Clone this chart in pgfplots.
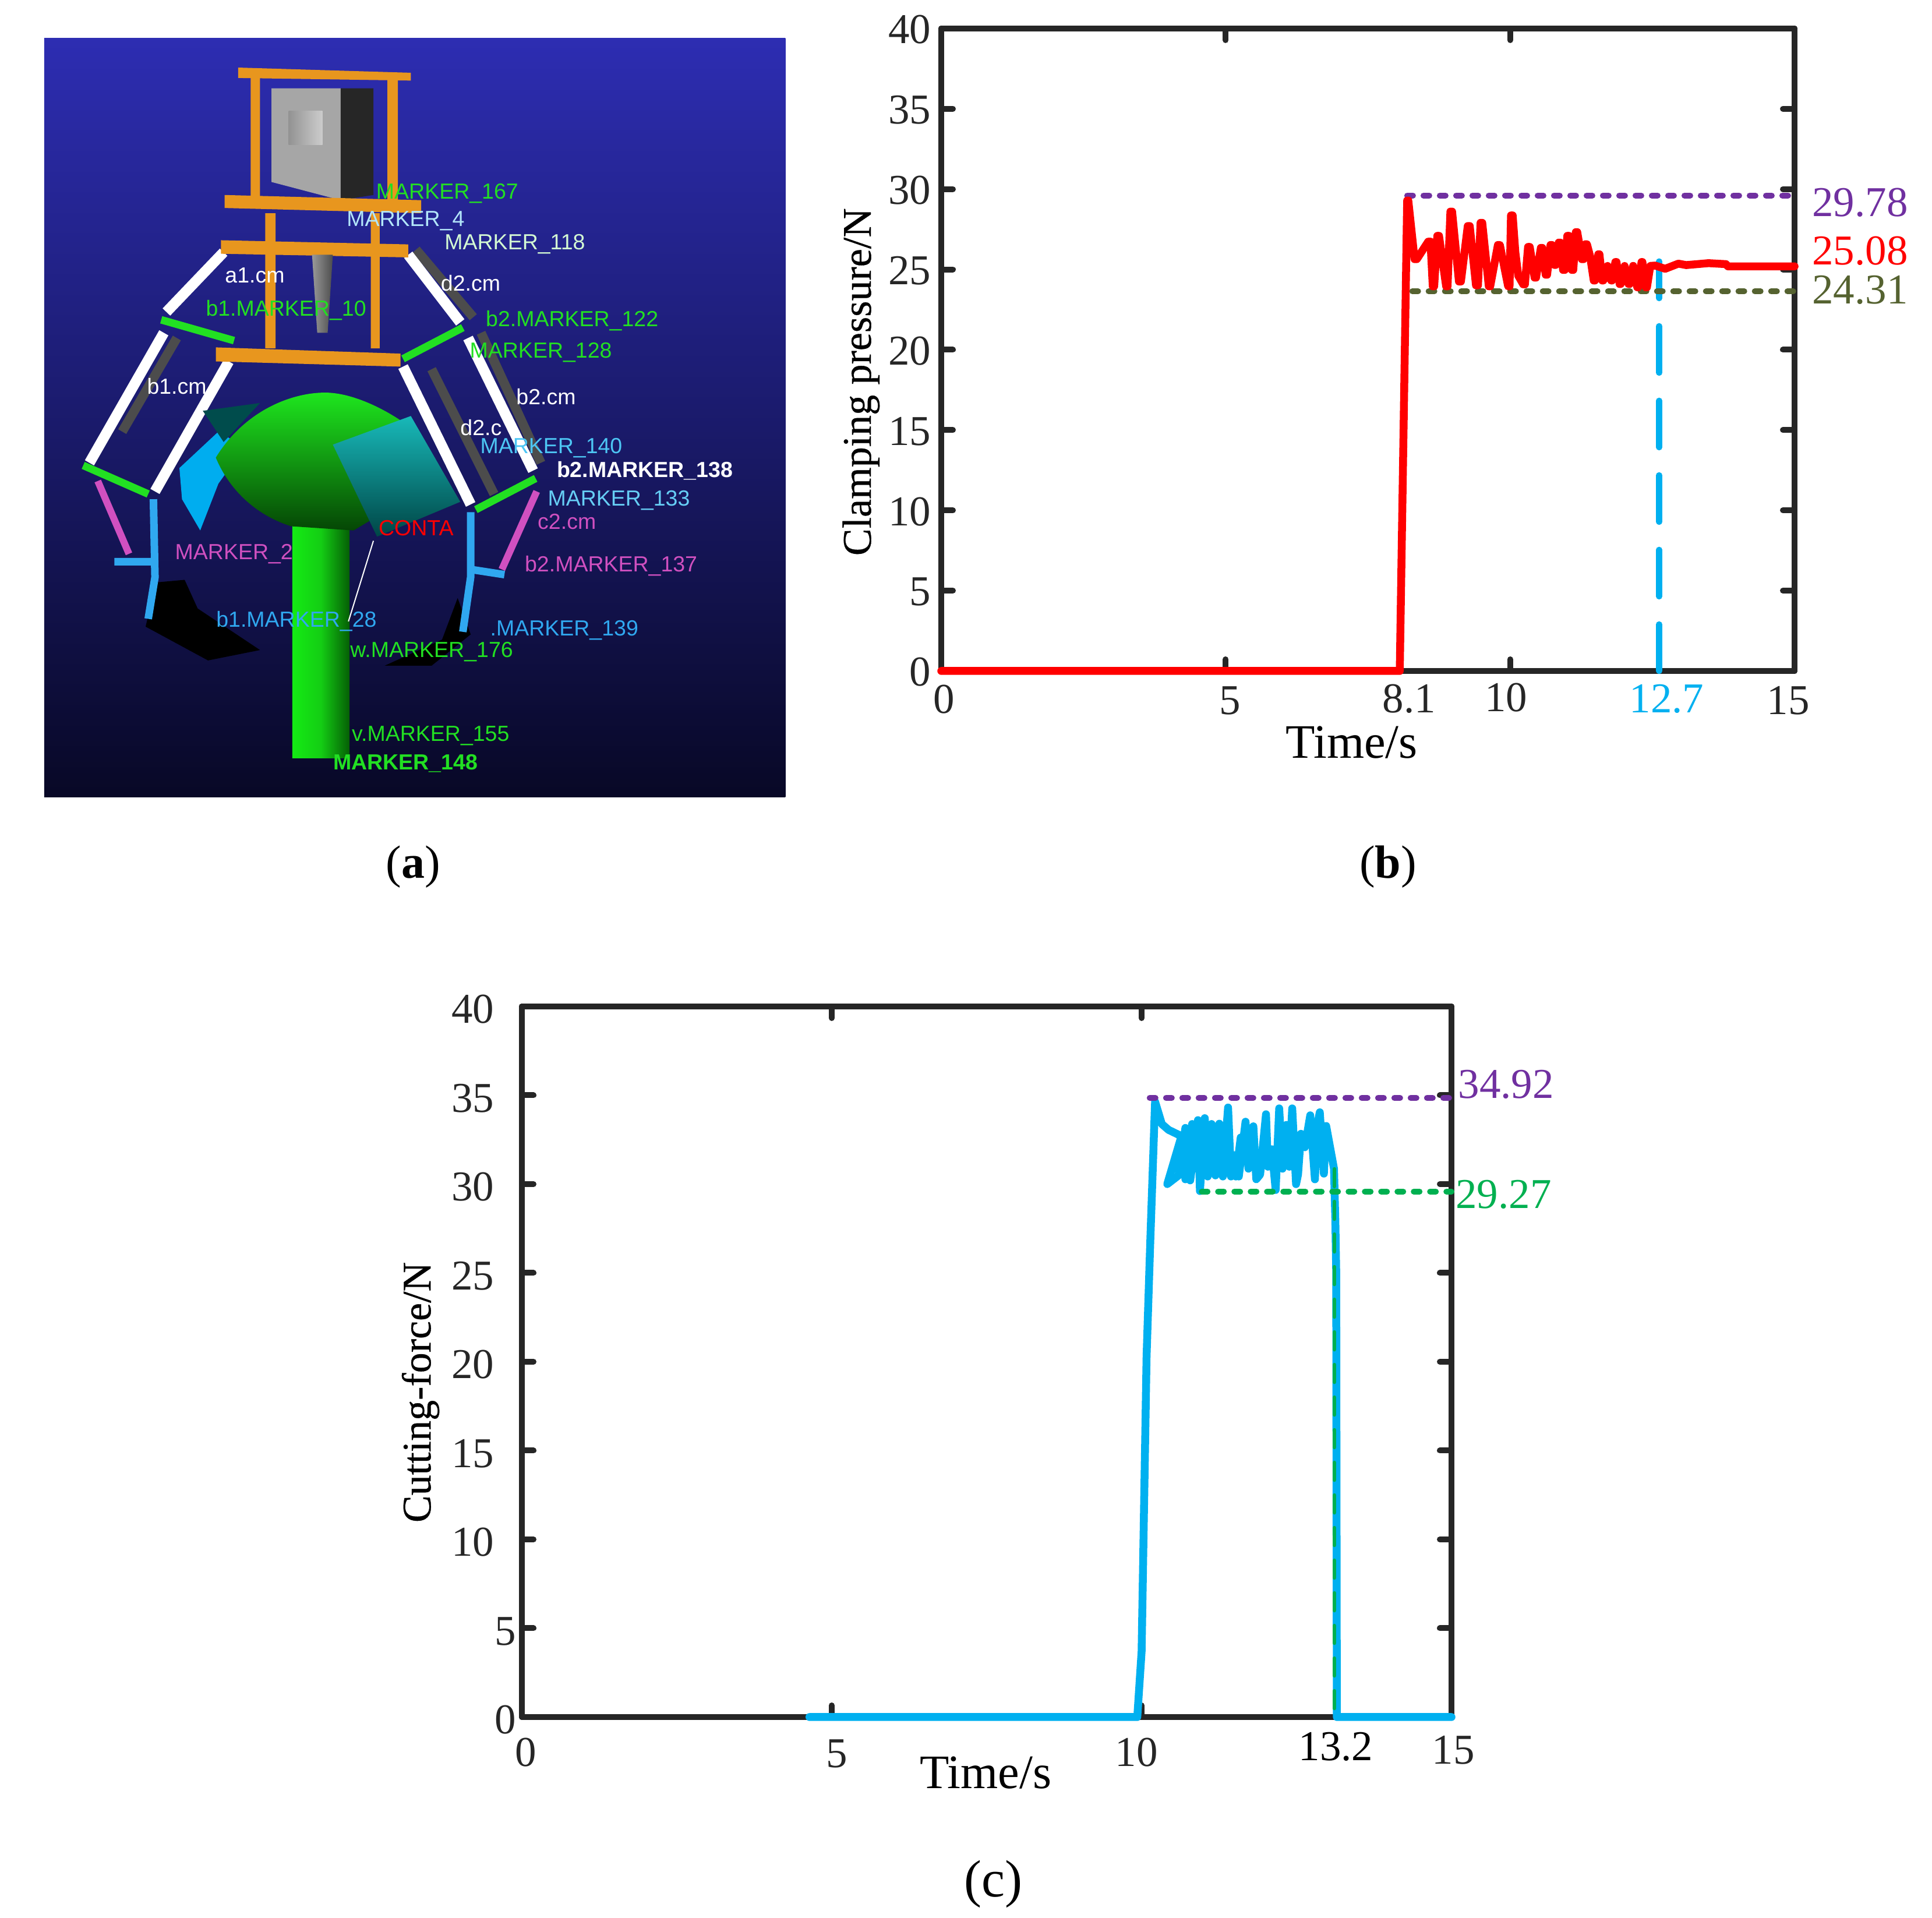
\documentclass[border=0pt]{standalone}
\usepackage{pgfplots}
\pgfplotsset{compat=1.18}
\usepackage{fontspec}
\setmainfont{Liberation Serif}
\setsansfont{Liberation Sans}
\newfontface\semib{Liberation Serif}[FakeBold=0.5]
\definecolor{axc}{HTML}{262626}
\definecolor{pur}{HTML}{7030A0}
\definecolor{oli}{HTML}{556230}
\definecolor{blu}{HTML}{00B0F0}
\definecolor{grn}{HTML}{00B050}
\definecolor{org}{HTML}{E8961E}
\definecolor{lim}{HTML}{22E022}
\definecolor{mag}{HTML}{D050C0}
\definecolor{fin}{HTML}{30A8F0}
\newcommand{\lab}[3]{\raisebox{#2}[10pt][0pt]{\hspace*{#1}#3\hspace*{-#1}}}
\newcommand{\mk}[4][]{\node[font=\sffamily\fontsize{7.5}{8}\selectfont,text=#2,#1] at #3 {#4};}
\pgfplotsset{
  panel/.style={
    scale only axis, anchor=north west, clip=false,
    xmin=0, xmax=15, ymin=0, ymax=40,
    ytick={0,5,...,40},
    tick align=inside, major tick length=4pt,
    tick style={line width=2pt, color=axc, line cap=round},
    axis line style={line width=2pt, color=axc, line join=round},
    /pgf/number format/assume math mode=true,
    tick label style={font=\fontsize{14.6}{16}\selectfont, text=axc},
    every axis plot/.append style={no markers},
    dotl/.style={line width=2pt, line cap=round, dash pattern=on 2pt off 3.6pt},
  },
}
\begin{document}
\begin{tikzpicture}
\path (0,0) rectangle (663.4pt,658pt);
% ---------- panel (a): schematic of the rendered model
\begin{scope}[shift={(0pt,658pt)},x=0.17857pt,y=-0.17857pt]
\shade[top color={rgb,255:red,45;green,45;blue,178},middle color={rgb,255:red,25;green,25;blue,110},bottom color={rgb,255:red,8;green,8;blue,38}] (85,73) rectangle (1510,1533);
% links, dark
\draw[line width=3.2pt,color=black!70] (800,480)--(910,610) (925,640)--(1040,890) (830,710)--(950,950) (340,650)--(235,830);
% links, white
\draw[line width=3.6pt,white] (430,485)--(320,600) (315,640)--(172,890) (440,695)--(298,945) (785,490)--(885,620) (900,650)--(1025,905) (775,705)--(905,970);
% rods and top
\fill[org] (482,150) rectangle (500,400) (745,150) rectangle (765,400) (510,410) rectangle (530,670) (713,410) rectangle (730,670);
\fill[org] (458,130)--(790,140)--(790,155)--(458,150)--cycle;
\fill[gray!70] (522,170)--(655,170)--(655,385)--(522,350)--cycle;
\fill[black!85] (655,170)--(718,170)--(718,375)--(655,385)--cycle;
\shade[left color=gray!85,right color=gray!40] (555,213) rectangle (620,278);
\fill[org] (432,375)--(810,385)--(810,410)--(432,400)--cycle;
\fill[org] (425,462)--(785,470)--(785,495)--(425,488)--cycle;
\shade[left color=gray!80,right color=black!70] (600,490)--(640,490)--(630,640)--(610,640)--cycle;
\fill[org] (415,668)--(770,680)--(770,705)--(415,695)--cycle;
% green links
\draw[line width=2.6pt,lim] (310,615)--(450,655) (890,630)--(775,690) (160,895)--(285,950) (1030,920)--(915,980);
% magenta
\draw[line width=2.4pt,mag] (188,925)--(248,1065) (1032,945)--(965,1095);
% blades
\fill[black] (300,1120)--(355,1115)--(380,1170)--(500,1250)--(400,1270)--(280,1205)--cycle;
\fill[black] (880,1150)--(905,1220)--(830,1280)--(740,1280)--(850,1230)--cycle;
% fingers
\draw[line width=2.6pt,fin] (295,960)--(298,1110)--(285,1190) (220,1080)--(300,1080) (905,985)--(905,1110)--(890,1215) (905,1095)--(970,1105);
% left jaw
\fill[cyan] (345,900)--(420,830)--(470,860)--(420,930)--(385,1020)--(350,960)--cycle;
\fill[teal!60!black] (390,790)--(500,775)--(430,850)--cycle;
% stem and head
\shade[left color={rgb,255:red,20;green,235;blue,20},right color={rgb,255:red,5;green,95;blue,5},middle color={rgb,255:red,20;green,205;blue,20}] (562,1000) rectangle (672,1458);
\shade[top color={rgb,255:red,30;green,230;blue,30},middle color={rgb,255:red,25;green,190;blue,25},bottom color={rgb,255:red,5;green,70;blue,5}] (415,880) .. controls (470,790) and (560,755) .. (625,755) .. controls (680,755) and (750,790) .. (800,830) -- (780,960) -- (680,1020) -- (560,1012) .. controls (490,990) and (440,940) .. (415,880) -- cycle;
% right jaw
\shade[top color={rgb,255:red,24;green,185;blue,185},bottom color={rgb,255:red,0;green,70;blue,70}] (640,855)--(790,800)--(885,965)--(725,1032)--cycle;
\draw[white,line width=0.4pt] (718,1040)--(670,1195);
% marker names
\mk{white}{(490,530)}{a1.cm}
\mk{white}{(905,545)}{d2.cm}
\mk{white}{(340,743)}{b1.cm}
\mk{white}{(1050,763)}{b2.cm}
\mk{white}{(925,822)}{d2.c}
\mk{lim}{(860,372)}{MARKER\_167}
\mk{cyan!30}{(780,425)}{MARKER\_4}
\mk{white!80!lim}{(990,470)}{MARKER\_118}
\mk{lim}{(550,597)}{b1.MARKER\_10}
\mk{lim}{(1100,617)}{b2.MARKER\_122}
\mk{lim}{(1040,678)}{MARKER\_128}
\mk{cyan!70}{(1060,862)}{MARKER\_140}
\mk[font=\sffamily\bfseries\fontsize{7.5}{8}\selectfont]{white}{(1240,905)}{b2.MARKER\_138}
\mk{cyan!60}{(1190,962)}{MARKER\_133}
\mk{red}{(800,1015)}{CONTA}
\mk{mag}{(1090,1003)}{c2.cm}
\mk{mag}{(450,1065)}{MARKER\_2}
\mk{mag}{(1175,1088)}{b2.MARKER\_137}
\mk{fin}{(570,1195)}{b1.MARKER\_28}
\mk{fin}{(1085,1212)}{.MARKER\_139}
\mk{lim}{(830,1253)}{w.MARKER\_176}
\mk{lim}{(828,1415)}{v.MARKER\_155}
\mk[font=\sffamily\bfseries\fontsize{7.5}{8}\selectfont]{lim}{(780,1468)}{MARKER\_148}
\end{scope}
% ---------- panel letters
\node[font=\fontsize{16}{18}\selectfont] at (141.8pt,360.4pt) {(\textbf{a})};
\node[font=\fontsize{16}{18}\selectfont] at (476.6pt,360.4pt) {(\textbf{b})};
\node[font=\fontsize{18}{20}\selectfont] at (341pt,11pt) {(c)};
% ---------- panel (b)
\begin{axis}[panel, at={(323.2pt,648.2pt)}, width=293pt, height=220.6pt,
  xtick={0,5,10,15},
  xticklabels={\lab{1pt}{-1pt}{0},\lab{1.4pt}{-1.3pt}{5},\lab{-1.4pt}{-0.4pt}{10},\lab{-2.2pt}{-1.3pt}{15}},
  extra x ticks={8.1,12.7},
  extra x tick labels={\lab{2.4pt}{-0.8pt}{8.1},\lab{1pt}{-0.8pt}{\textcolor{blu}{12.7}}},
  extra x tick style={major tick length=0pt},
  yticklabel style={yshift=-0.4pt},
  xlabel={Time/s}, ylabel={\semib Clamping pressure/N},
  xlabel style={at={(axis description cs:0.481,-0.111)},anchor=center,font=\fontsize{16.5}{18}\selectfont},
  ylabel style={at={(axis description cs:-0.094,0.45)},anchor=center,rotate=0,font=\fontsize{14}{16}\selectfont},
]
\addplot[color=blu,line width=2.1pt,line cap=round,dash pattern=on 16pt off 9.6pt] coordinates {(12.62,0)(12.62,25.5)};
\addplot[color=oli,dotl] coordinates {(8.28,23.64)(15,23.64)};
\addplot[color=pur,dotl] coordinates {(8.19,29.6)(14.92,29.6)};
\addplot[color=red,line width=2.7pt,line cap=round,line join=round] coordinates {
(0,0)(8.06,0)(8.19,29.29)(8.21,29.29)(8.32,25.64)(8.36,25.64)(8.56,26.73)(8.60,26.73)(8.64,23.95)(8.665,23.95)(8.72,27.09)(8.75,27.09)(8.875,23.95)(8.90,23.95)
(8.95,28.60)(8.98,28.60)(9.10,24.25)(9.135,24.25)(9.255,27.70)(9.29,27.70)(9.40,24.01)(9.435,24.01)(9.48,27.90)(9.51,27.90)(9.625,23.95)(9.65,23.95)(9.785,26.52)(9.82,26.52)
(9.965,23.95)(9.99,23.95)(10.015,28.36)(10.045,28.36)(10.092,26.06)(10.143,24.61)(10.23,24.07)(10.26,24.07)(10.315,26.40)(10.345,26.40)(10.43,24.49)(10.455,24.49)
(10.54,26.34)(10.565,26.34)(10.625,24.67)(10.65,24.67)(10.71,26.52)(10.735,26.52)(10.78,25.28)(10.80,25.28)(10.855,26.67)(10.88,26.67)(10.93,24.97)(10.96,24.97)(11.005,27.09)(11.035,27.09)
(11.085,24.97)(11.11,24.97)(11.155,27.32)(11.18,27.32)(11.26,25.64)(11.29,25.64)(11.325,26.57)(11.35,26.57)(11.406,25.82)(11.47,24.31)(11.49,24.31)(11.55,25.94)(11.57,25.94)
(11.62,24.31)(11.64,24.31)(11.713,25.22)(11.775,24.31)(11.79,24.31)(11.85,25.46)(11.87,25.46)(11.925,24.09)(11.945,24.09)(12.013,25.22)(12.08,24.09)(12.10,24.09)
(12.163,25.22)(12.235,23.89)(12.25,23.89)(12.31,25.46)(12.325,25.46)(12.385,23.89)(12.405,23.89)(12.464,25.22)(12.549,25.24)(12.726,25.04)
(12.958,25.36)(13.095,25.27)(13.487,25.39)(13.794,25.33)(13.829,25.19)(15,25.19)};
\node[anchor=base west,text=pur,font=\fontsize{14.6}{16}\selectfont,inner sep=0pt] at (axis cs:15.3,28.32) {29.78};
\node[anchor=base west,text=red,font=\fontsize{14.6}{16}\selectfont,inner sep=0pt] at (axis cs:15.3,25.3) {25.08};
\node[anchor=base west,text=oli,font=\fontsize{14.6}{16}\selectfont,inner sep=0pt] at (axis cs:15.3,22.85) {24.31};
\end{axis}
% ---------- panel (c)
\begin{axis}[panel, at={(179.2pt,312.4pt)}, width=319.2pt, height=244pt,
  xtick={0,5,10,15},
  xticklabels={\lab{1.4pt}{-3.4pt}{0},\lab{1.8pt}{-3.8pt}{5},\lab{-1.8pt}{-3.4pt}{10},\lab{0.6pt}{-2.5pt}{15}},
  extra x ticks={13.2},
  extra x tick labels={\lab{-1.4pt}{-1.3pt}{\textcolor{black}{13.2}}},
  extra x tick style={major tick length=0pt},
  yticklabels={\lab{1.6pt}{0pt}{0},\lab{1.6pt}{0pt}{5},\lab{-6pt}{0pt}{10},\lab{-6pt}{0pt}{15},\lab{-6pt}{0pt}{20},\lab{-6pt}{0pt}{25},\lab{-6pt}{0pt}{30},\lab{-6pt}{0pt}{35},\lab{-6pt}{0pt}{40}},
  yticklabel style={yshift=-0.8pt},
  xlabel={Time/s}, ylabel={\semib Cutting-force/N},
  xlabel style={at={(axis description cs:0.499,-0.078)},anchor=center,font=\fontsize{16.5}{18}\selectfont},
  ylabel style={at={(axis description cs:-0.109,0.457)},anchor=center,rotate=0,font=\fontsize{14}{16}\selectfont},
]
\addplot[color=blu,line width=2.7pt,line cap=round,line join=round] coordinates {
(4.64,0)(9.93,0)(10.0,3.7)(10.08,20.3)(10.14,26.8)(10.217,34.64)(10.326,33.38)(10.436,33.05)(10.643,32.70)
(10.414,30.0)(10.596,30.49)(10.706,33.16)(10.706,30.27)(10.815,33.38)(10.784,30.21)(10.909,33.60)(10.941,29.61)
(11.019,33.71)(11.066,30.43)(11.129,33.38)(11.191,30.49)(11.254,33.40)(11.311,30.43)(11.395,34.31)(11.442,30.43)
(11.489,31.63)(11.521,30.43)(11.599,32.62)(11.568,30.43)(11.677,33.51)(11.724,30.87)(11.803,33.25)(11.850,30.27)
(11.912,30.54)(12.007,33.93)(12.038,30.98)(12.101,31.96)(12.163,29.67)(12.220,34.26)(12.273,30.87)(12.336,33.33)
(12.383,30.98)(12.430,34.26)(12.492,30.0)(12.524,30.54)(12.571,32.83)(12.634,32.07)(12.721,33.87)(12.796,30.27)
(12.837,33.38)(12.875,34.04)(12.941,30.59)(12.978,33.27)(13.104,30.87)(13.126,27.92)(13.14,25)(13.15,0)(15,0)};
\addplot[color=pur,dotl] coordinates {(10.13,34.85)(15,34.85)};
\addplot[color=grn,dotl] coordinates {(10.97,29.58)(15,29.58)};
\addplot[color=grn,line width=1.3pt,line cap=round,dash pattern=on 6pt off 5.2pt] coordinates {(13.11,30.85)(13.11,0)};
\node[anchor=center,text=pur,font=\fontsize{14.6}{16}\selectfont,inner sep=0pt] at (axis cs:15.88,35.6) {34.92};
\node[anchor=center,text=grn,font=\fontsize{14.6}{16}\selectfont,inner sep=0pt] at (axis cs:15.84,29.4) {29.27};
\end{axis}
\end{tikzpicture}
\end{document}
